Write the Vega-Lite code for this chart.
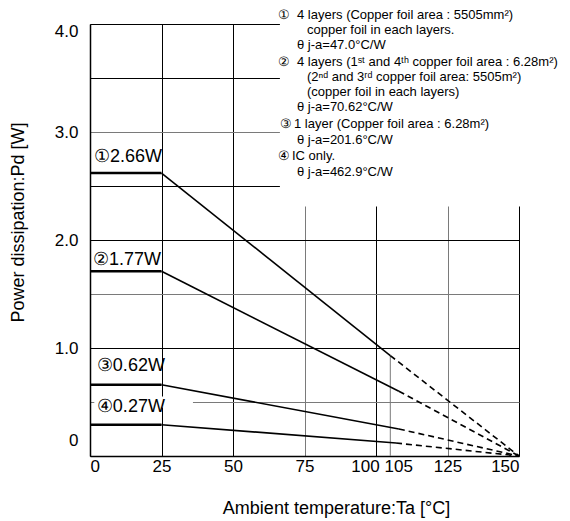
{
  "$schema": "https://vega.github.io/schema/vega-lite/v6.json",
  "autosize": {"type": "none"},
  "padding": {"left": 90, "top": 24, "right": 51, "bottom": 65},
  "width": 429,
  "height": 432,
  "background": "white",
  "config": {
    "view": {"stroke": null},
    "font": "Liberation Sans",
    "text": {"font": "Liberation Sans", "color": "black"}
  },
  "datasets": {
    "curves": [
      {"series": "1", "part": "flat", "ta": 0, "pd": 2.62},
      {"series": "1", "part": "flat", "ta": 25, "pd": 2.62},
      {"series": "1", "part": "slope", "ta": 25, "pd": 2.62},
      {"series": "1", "part": "slope", "ta": 105, "pd": 0.93},
      {"series": "1", "part": "dash", "ta": 105, "pd": 0.93},
      {"series": "1", "part": "dash", "ta": 150, "pd": 0},
      {"series": "2", "part": "flat", "ta": 0, "pd": 1.71},
      {"series": "2", "part": "flat", "ta": 25, "pd": 1.71},
      {"series": "2", "part": "slope", "ta": 25, "pd": 1.71},
      {"series": "2", "part": "slope", "ta": 108, "pd": 0.6},
      {"series": "2", "part": "dash", "ta": 108, "pd": 0.6},
      {"series": "2", "part": "dash", "ta": 150, "pd": 0},
      {"series": "3", "part": "flat", "ta": 0, "pd": 0.66},
      {"series": "3", "part": "flat", "ta": 25, "pd": 0.66},
      {"series": "3", "part": "slope", "ta": 25, "pd": 0.66},
      {"series": "3", "part": "slope", "ta": 108, "pd": 0.25},
      {"series": "3", "part": "dash", "ta": 108, "pd": 0.25},
      {"series": "3", "part": "dash", "ta": 150, "pd": 0},
      {"series": "4", "part": "flat", "ta": 0, "pd": 0.29},
      {"series": "4", "part": "flat", "ta": 25, "pd": 0.29},
      {"series": "4", "part": "slope", "ta": 25, "pd": 0.29},
      {"series": "4", "part": "slope", "ta": 107, "pd": 0.12},
      {"series": "4", "part": "dash", "ta": 107, "pd": 0.12},
      {"series": "4", "part": "dash", "ta": 150, "pd": 0}
    ],
    "labels": [
      {"label": "①2.66W", "ta": 1.4, "pd": 2.77},
      {"label": "②1.77W", "ta": 1.05, "pd": 1.815},
      {"label": "③0.62W", "ta": 2.4, "pd": 0.833},
      {"label": "④0.27W", "ta": 2.4, "pd": 0.454}
    ],
    "boxes": [
      {"ta": 66.4, "ta2": 180, "pd": 2.31, "pd2": 4.6},
      {"ta": 1.5, "ta2": 36, "pd": 0.45, "pd2": 0.55}
    ],
    "rule105": [{"ta": 105, "pd": 0, "pd2": 0.93}],
    "legend": [
      {"t": "①", "ta": 65.73, "pd": 4.083},
      {"t": "4 layers (Copper foil area : 5505mm²)", "ta": 72.38, "pd": 4.083},
      {"t": "copper foil in each layers.", "ta": 75.87, "pd": 3.944},
      {"t": "θ j-a=47.0°C/W", "ta": 72.38, "pd": 3.806},
      {"t": "②", "ta": 65.73, "pd": 3.648},
      {"t": "4 layers (1ˢᵗ and 4ᵗʰ copper foil area : 6.28m²)", "ta": 72.38, "pd": 3.648},
      {"t": "(2ⁿᵈ and 3ʳᵈ copper foil area: 5505m²)", "ta": 75.87, "pd": 3.509},
      {"t": "(copper foil in each layers)", "ta": 75.87, "pd": 3.37},
      {"t": "θ j-a=70.62°C/W", "ta": 72.38, "pd": 3.231},
      {"t": "③", "ta": 66.43, "pd": 3.074},
      {"t": "1 layer (Copper foil area : 6.28m²)", "ta": 71.33, "pd": 3.074},
      {"t": "θ j-a=201.6°C/W", "ta": 72.38, "pd": 2.926},
      {"t": "④", "ta": 65.73, "pd": 2.778},
      {"t": "IC only.", "ta": 70.63, "pd": 2.778},
      {"t": "θ j-a=462.9°C/W", "ta": 72.38, "pd": 2.63}
    ]
  },
  "layer": [
    {
      "data": {"name": "boxes"},
      "mark": {"type": "rect", "fill": "white", "stroke": null},
      "encoding": {
        "x": {
          "field": "ta", "type": "quantitative",
          "scale": {"domain": [0, 150], "nice": false, "zero": false},
          "axis": {
            "values": [0, 25, 50, 75, 100, 105, 125, 150],
            "grid": true,
            "gridColor": {"condition": {"test": "datum.value === 75 || datum.value === 125", "value": "#7a7a7a"}, "value": "#000000"},
            "gridOpacity": {"condition": {"test": "datum.value === 105", "value": 0}, "value": 1},
            "gridWidth": 1,
            "ticks": false,
            "domainColor": "#000000",
            "domainWidth": 1.5,
            "labelFont": "Liberation Sans",
            "labelFontSize": 17,
            "labelColor": "#000000",
            "labelPadding": 2,
            "labelOverlap": false,
            "labelOffset": {"condition": [{"test": "datum.value === 100", "value": -11}, {"test": "datum.value === 105", "value": 8}], "value": 0},
            "title": "Ambient temperature:Ta [°C]",
            "titleFont": "Liberation Sans",
            "titleFontSize": 18,
            "titleFontWeight": "normal",
            "titleColor": "#000000",
            "titleBaseline": "middle",
            "titleX": 246,
            "titleY": 52
          }
        },
        "x2": {"field": "ta2"},
        "y": {
          "field": "pd", "type": "quantitative",
          "scale": {"domain": [0, 4], "nice": false},
          "axis": {
            "values": [0, 0.5, 1, 1.5, 2, 2.5, 3, 3.5, 4],
            "labelExpr": "datum.value === 0 ? '0' : (datum.value % 1 === 0 ? format(datum.value, '.1f') : '')",
            "grid": true,
            "gridColor": {"condition": {"test": "datum.value === 3 || datum.value === 1.5 || datum.value === 0.5", "value": "#7a7a7a"}, "value": "#000000"},
            "gridWidth": 1,
            "ticks": false,
            "domainColor": "#000000",
            "domainWidth": 1.5,
            "labelFont": "Liberation Sans",
            "labelFontSize": 17,
            "labelColor": "#000000",
            "labelPadding": 12,
            "labelOverlap": false,
            "labelOffset": {"condition": [{"test": "datum.value === 0", "value": -16}, {"test": "datum.value === 4", "value": 7}], "value": 0},
            "title": "Power dissipation:Pd [W]",
            "titleFont": "Liberation Sans",
            "titleFontSize": 18,
            "titleFontWeight": "normal",
            "titleColor": "#000000",
            "titleAngle": -90,
            "titleBaseline": "middle",
            "titleAlign": "center",
            "titleX": -72,
            "titleY": 198
          }
        },
        "y2": {"field": "pd2"}
      }
    },
    {
      "data": {"name": "rule105"},
      "mark": {"type": "rule", "color": "#7a7a7a", "strokeWidth": 1},
      "encoding": {
        "x": {"field": "ta", "type": "quantitative"},
        "y": {"field": "pd", "type": "quantitative"},
        "y2": {"field": "pd2"}
      }
    },
    {
      "data": {"name": "curves"},
      "transform": [{"filter": "datum.part === 'flat'"}],
      "mark": {"type": "line", "color": "black", "strokeWidth": 2.5},
      "encoding": {
        "x": {"field": "ta", "type": "quantitative"},
        "y": {"field": "pd", "type": "quantitative"},
        "detail": {"field": "series"}
      }
    },
    {
      "data": {"name": "curves"},
      "transform": [{"filter": "datum.part === 'slope'"}],
      "mark": {"type": "line", "color": "black", "strokeWidth": 1.6},
      "encoding": {
        "x": {"field": "ta", "type": "quantitative"},
        "y": {"field": "pd", "type": "quantitative"},
        "detail": {"field": "series"}
      }
    },
    {
      "data": {"name": "curves"},
      "transform": [{"filter": "datum.part === 'dash'"}],
      "mark": {"type": "line", "color": "black", "strokeWidth": 1.6, "strokeDash": [6, 4]},
      "encoding": {
        "x": {"field": "ta", "type": "quantitative"},
        "y": {"field": "pd", "type": "quantitative"},
        "detail": {"field": "series"}
      }
    },
    {
      "data": {"name": "labels"},
      "mark": {"type": "text", "align": "left", "baseline": "middle", "fontSize": 18, "color": "black"},
      "encoding": {
        "x": {"field": "ta", "type": "quantitative"},
        "y": {"field": "pd", "type": "quantitative"},
        "text": {"field": "label"}
      }
    },
    {
      "data": {"name": "legend"},
      "mark": {"type": "text", "align": "left", "baseline": "middle", "fontSize": 13, "color": "black"},
      "encoding": {
        "x": {"field": "ta", "type": "quantitative"},
        "y": {"field": "pd", "type": "quantitative"},
        "text": {"field": "t"}
      }
    }
  ]
}
